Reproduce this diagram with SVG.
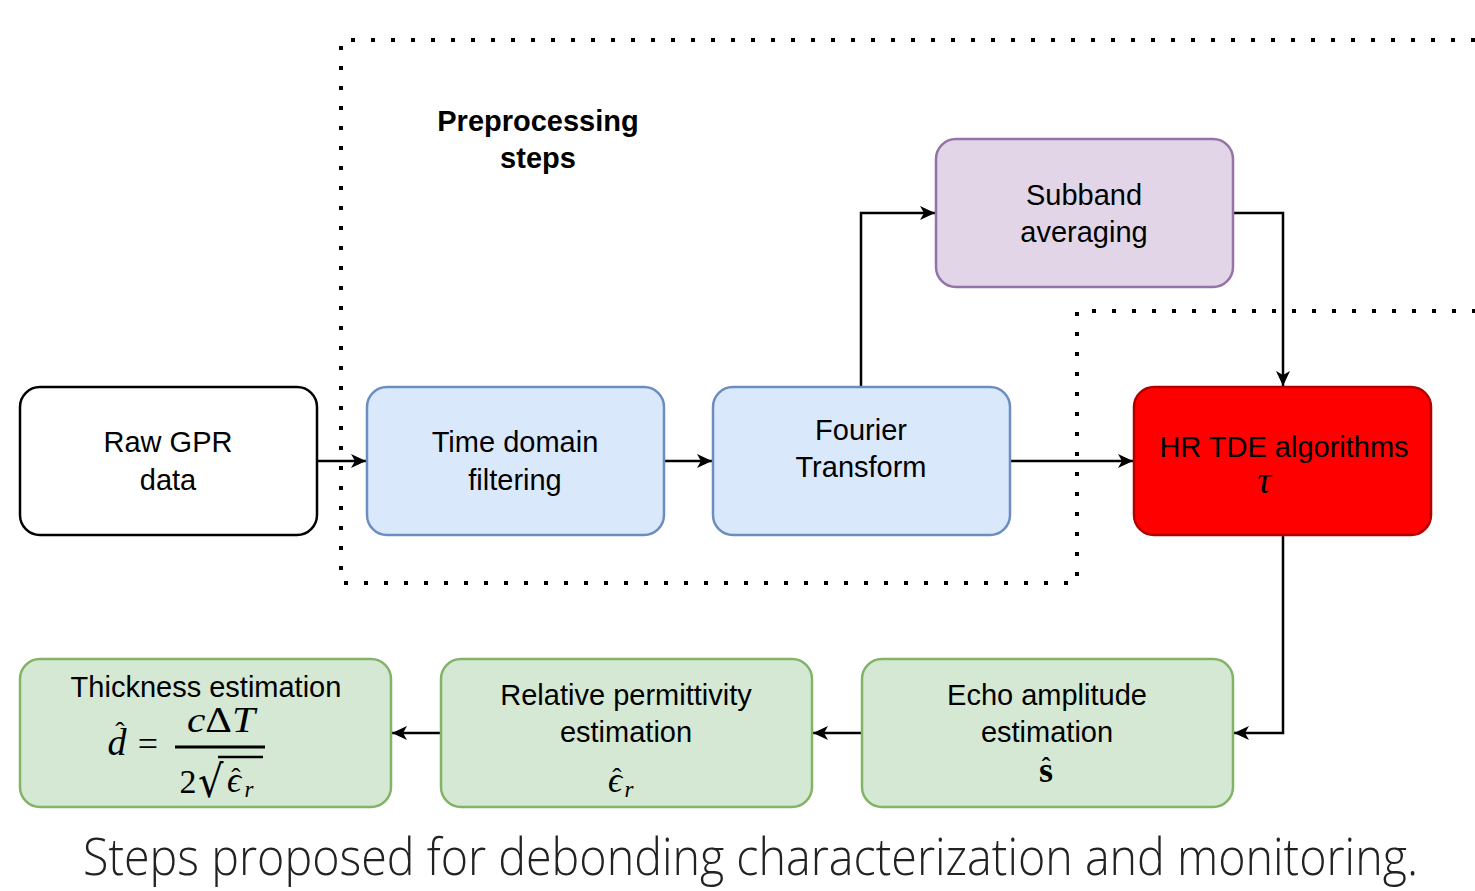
<svg xmlns="http://www.w3.org/2000/svg" width="1475" height="891" viewBox="0 0 1475 891">
<style>
.lbl{font-family:"Liberation Sans",Arial,sans-serif;font-size:29px;fill:#000;text-anchor:middle}
.bold{font-weight:bold}
.math{font-family:"Liberation Serif","DejaVu Serif",serif;font-style:italic;fill:#000}
.up{font-family:"Liberation Serif","DejaVu Serif",serif;fill:#000}
.edge{fill:none;stroke:#000;stroke-width:2.5}
.dots{fill:none;stroke:#000;stroke-width:4;stroke-dasharray:4 16}
</style>
<defs>
<marker id="arr" markerUnits="userSpaceOnUse" markerWidth="16" markerHeight="14" refX="15" refY="7" orient="auto">
<path d="M0,0 L15,7 L0,14 L4,7 Z" fill="#000"/>
</marker>
</defs>
<rect width="1475" height="891" fill="#fff"/>
<g id="groups">
<path class="dots" d="M1475,40 L341,40 L341,583 L1077,583 L1077,311 L1475,311"/>
<text class="lbl bold" x="538" y="131">Preprocessing</text>
<text class="lbl bold" x="538" y="168">steps</text>
</g>
<g id="connectors">
<path class="edge" d="M317,461 L366,461" marker-end="url(#arr)"/>
<path class="edge" d="M664,461 L712,461" marker-end="url(#arr)"/>
<path class="edge" d="M1010,461 L1133,461" marker-end="url(#arr)"/>
<path class="edge" d="M861,387 L861,213 L935,213" marker-end="url(#arr)"/>
<path class="edge" d="M1233,213 L1283,213 L1283,386" marker-end="url(#arr)"/>
<path class="edge" d="M1283,535 L1283,733 L1234,733" marker-end="url(#arr)"/>
<path class="edge" d="M862,733 L813,733" marker-end="url(#arr)"/>
<path class="edge" d="M441,733 L392,733" marker-end="url(#arr)"/>
</g>
<g id="raw">
<rect x="20" y="387" width="297" height="148" rx="20" fill="#fff" stroke="#000" stroke-width="2.5"/>
<text class="lbl" x="168" y="452">Raw GPR</text>
<text class="lbl" x="168" y="490">data</text>
</g>
<g id="time">
<rect x="367" y="387" width="297" height="148" rx="20" fill="#dae8fc" stroke="#6c8ebf" stroke-width="2.5"/>
<text class="lbl" x="515" y="452">Time domain</text>
<text class="lbl" x="515" y="490">filtering</text>
</g>
<g id="fourier">
<rect x="713" y="387" width="297" height="148" rx="20" fill="#dae8fc" stroke="#6c8ebf" stroke-width="2.5"/>
<text class="lbl" x="861" y="440">Fourier</text>
<text class="lbl" x="861" y="477">Transform</text>
</g>
<g id="subband">
<rect x="936" y="139" width="297" height="148" rx="20" fill="#e1d5e7" stroke="#9673a6" stroke-width="2.5"/>
<text class="lbl" x="1084" y="205">Subband</text>
<text class="lbl" x="1084" y="242">averaging</text>
</g>
<g id="hrtde">
<rect x="1134" y="387" width="297" height="148" rx="20" fill="#ff0000" stroke="#b20000" stroke-width="2.5"/>
<text class="lbl" x="1284" y="457">HR TDE algorithms</text>
<text class="math" x="1264" y="493" font-size="38" text-anchor="middle">τ</text>
</g>
<g id="echo">
<rect x="862" y="659" width="371" height="148" rx="20" fill="#d5e8d4" stroke="#82b366" stroke-width="2.5"/>
<text class="lbl" x="1047" y="705">Echo amplitude</text>
<text class="lbl" x="1047" y="742">estimation</text>
<text class="up" x="1046" y="782" font-size="36" font-weight="bold" text-anchor="middle">s</text>
<text class="up" x="1046" y="775" font-size="26" font-weight="bold" text-anchor="middle">ˆ</text>
</g>
<g id="permittivity">
<rect x="441" y="659" width="371" height="148" rx="20" fill="#d5e8d4" stroke="#82b366" stroke-width="2.5"/>
<text class="lbl" x="626" y="705">Relative permittivity</text>
<text class="lbl" x="626" y="742">estimation</text>
<text class="math" x="615" y="792" font-size="35" text-anchor="middle">ϵ</text>
<text class="up" x="617" y="787" font-size="28" text-anchor="middle">ˆ</text>
<text class="math" x="629" y="797" font-size="23" text-anchor="middle">r</text>
</g>
<g id="thickness">
<rect x="20" y="659" width="371" height="148" rx="20" fill="#d5e8d4" stroke="#82b366" stroke-width="2.5"/>
<text class="lbl" x="206" y="697">Thickness estimation</text>
<text class="math" x="117" y="755" font-size="38" text-anchor="middle">d</text>
<text class="up" x="120" y="741" font-size="28" text-anchor="middle">ˆ</text>
<text class="up" x="148" y="756" font-size="36" text-anchor="middle">=</text>
<text class="up" x="187" y="732" font-size="36" textLength="68" lengthAdjust="spacingAndGlyphs"><tspan font-style="italic">c</tspan>Δ<tspan font-style="italic">T</tspan></text>
<line x1="175" y1="747" x2="265" y2="747" stroke="#000" stroke-width="3"/>
<text class="up" x="188" y="793" font-size="34" text-anchor="middle">2</text>
<text font-family="DejaVu Sans" x="0" y="0" font-size="40" transform="translate(198,797) scale(1,1.1)" fill="#000">√</text>
<line x1="218" y1="757" x2="263" y2="757" stroke="#000" stroke-width="2.5"/>
<text class="math" x="234" y="792" font-size="35" text-anchor="middle">ϵ</text>
<text class="up" x="236" y="787" font-size="28" text-anchor="middle">ˆ</text>
<text class="math" x="249" y="797" font-size="23" text-anchor="middle">r</text>
</g>
<g id="caption">
<text x="83" y="875" font-family="'Open Sans','Liberation Sans',sans-serif" font-weight="300" font-size="52" fill="#222" textLength="1335" lengthAdjust="spacingAndGlyphs">Steps proposed for debonding characterization and monitoring.</text>
</g>
</svg>
